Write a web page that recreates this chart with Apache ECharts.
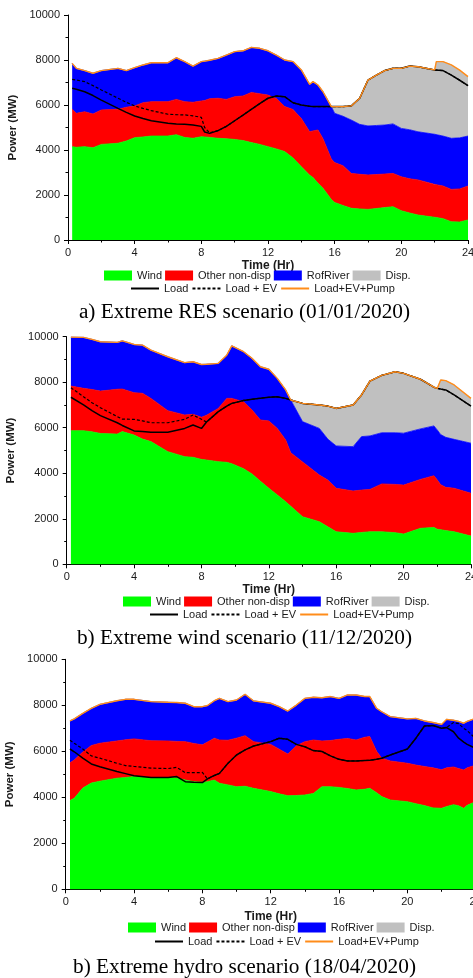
<!DOCTYPE html>
<html><head><meta charset="utf-8">
<script src="https://cdn.jsdelivr.net/npm/echarts@6/dist/echarts.min.js"></script>
<style>html,body{margin:0;padding:0;background:#fff}#c{width:473px;height:978px}</style>
</head><body><div id="c"></div>
<script>
// ---------- Chart a) Extreme RES scenario (01/01/2020) ----------
const hoursA = [0.25,0.5,1,1.5,2,3,3.5,4,4.5,5,6,6.5,7,7.5,8,8.2,8.5,9,9.5,10,10.5,11,11.5,12,12.5,13,13.5,14,14.5,14.7,15,15.3,15.8,16,16.5,17,17.5,18,18.5,19,19.5,20,20.5,21,22,22.1,22.5,23,23.5,24];
const windA = [4150,4120,4150,4100,4250,4300,4400,4550,4580,4620,4620,4680,4560,4520,4590,4580,4560,4520,4500,4470,4420,4330,4250,4150,4050,3930,3650,3260,2880,2780,2520,2300,1800,1670,1530,1410,1380,1360,1400,1440,1480,1300,1200,1110,1010,1000,950,810,800,890];
const otherA = [1660,1510,1550,1500,1530,1510,1500,1410,1520,1530,1530,1570,1590,1600,1590,1620,1720,1780,1750,1900,1980,2230,2250,2290,2240,2000,2150,2140,1930,2070,2370,2200,1800,1770,1770,1550,1540,1530,1510,1490,1480,1510,1520,1560,1460,1460,1450,1440,1470,1510];
const rofA = [2040,2000,1830,1810,1750,1820,1630,1700,1680,1730,1730,1850,1780,1610,1750,1750,1710,1770,1970,2000,2010,2000,2020,1970,1930,2070,2130,2160,2110,2190,2000,2090,2330,2190,2200,2370,2220,2180,2180,2180,2200,2150,2180,2140,2230,2240,2220,2270,2270,2220];
const dispA = [0,0,0,0,0,0,0,0,0,0,0,0,0,0,0,0,0,0,0,0,0,0,0,0,0,0,0,0,0,0,0,0,0,300,430,630,1160,2040,2240,2420,2470,2670,2830,2890,2860,3230,3310,3260,3010,2640];
const loadA = [6740,6700,6590,6420,6220,5850,5670,5510,5400,5300,5190,5160,5140,5110,5050,4800,4740,4860,5050,5300,5550,5810,6060,6300,6400,6370,6100,6000,5940,5930,5930,5930,5930,5930,5930,5960,6300,7110,7330,7530,7630,7630,7730,7700,7560,7560,7530,7330,7100,6860];
const loadEVA = [7140,7110,7040,6860,6670,6300,6120,5960,5850,5750,5590,5570,5560,5520,5450,5000,4760,4860,5050,5300,5550,5810,6060,6300,6400,6370,6100,6000,5940,5930,5930,5930,5930,5930,5930,5960,6300,7110,7330,7530,7630,7630,7730,7700,7560,7560,7530,7330,7100,6860];
const pumpA = [7850,7630,7530,7410,7530,7630,7530,7660,7780,7880,7880,8100,7930,7730,7930,7950,7990,8070,8220,8370,8410,8560,8520,8410,8220,8000,7930,7560,6920,7040,6890,6590,5930,5930,5930,5960,6300,7110,7330,7530,7630,7630,7730,7700,7560,7930,7930,7780,7550,7260];

// ---------- Chart b) Extreme wind scenario (11/12/2020) ----------
const hoursB = [0.25,1,1.5,2,3,3.3,4,4.5,5,6,7,7.5,8,8.3,9,9.5,9.8,10.5,11,11.5,12,12.5,13,13.3,14,15,15.5,16,17,17.5,18,18.7,19.5,20,21,21.8,22,22.2,22.5,23,24];
const windB = [5870,5870,5820,5750,5720,5830,5680,5500,5390,4950,4730,4700,4610,4580,4510,4480,4420,4200,3970,3650,3340,3050,2750,2550,2090,1870,1650,1430,1360,1400,1430,1430,1390,1330,1580,1620,1540,1520,1480,1430,1240];
const otherB = [1960,1860,1860,1860,1970,1870,1860,2010,1900,1800,1830,1890,1850,1970,2340,2810,2870,2940,2810,2690,2960,2920,2710,2350,2410,2050,2050,1910,1860,1860,1860,2100,2120,2150,2150,2270,2160,1980,1900,1910,1880];
const rofB = [2150,2240,2200,2170,2060,2120,2120,2120,2120,2370,2300,2310,2320,2240,1980,1900,2310,2200,2270,2340,2270,2200,2200,2320,1770,2050,1800,1860,1950,2350,2350,2250,2270,2280,2220,2190,2200,2200,2200,2150,2200];
const dispB = [0,0,0,0,0,0,0,0,0,0,0,0,0,0,0,0,0,0,0,0,0,0,0,0,800,1030,1450,1650,1830,1830,2410,2520,2680,2630,2180,1700,1830,2400,2490,2390,1970];
const loadB = [7340,7000,6750,6530,6220,6100,5860,5830,5800,5800,5970,6120,5970,6250,6710,6950,7070,7200,7250,7300,7340,7360,7290,7220,7070,7000,6950,6850,7000,7440,8050,8300,8460,8390,8130,7780,7730,7700,7660,7440,6950];
const loadEVB = [7760,7360,7100,6880,6490,6380,6370,6300,6220,6220,6370,6560,6370,6250,6710,6950,7070,7200,7250,7300,7340,7360,7290,7220,7070,7000,6950,6850,7000,7440,8050,8300,8460,8390,8130,7780,7730,7700,7660,7440,6950];
const pumpB = [9980,9970,9880,9780,9750,9820,9660,9630,9410,9120,8860,8900,8780,8790,8830,9190,9600,9340,9050,8680,8570,8170,7660,7220,7070,7000,6950,6850,7000,7440,8050,8300,8460,8390,8130,7780,7730,8100,8070,7880,7290];

// ---------- Chart c) Extreme hydro scenario (18/04/2020) ----------
const hoursC = [0.25,0.5,1,1.5,2,3,3.5,4,5,6,6.5,7,7.5,8,8.3,8.7,9,9.5,10,10.5,11,12,12.5,13,13.5,14,14.5,15,15.5,16,16.5,17,17.5,17.8,18.2,18.5,19,20,20.5,21,21.5,22,22.3,22.7,23,23.3,23.5,24];
const windC = [3860,3960,4400,4620,4700,4830,4860,4900,4830,4860,4840,4750,4680,4650,4680,4750,4610,4540,4460,4480,4390,4250,4150,4070,4080,4100,4170,4460,4460,4430,4380,4320,4350,4390,4200,4030,3880,3810,3720,3640,3540,3520,3600,3680,3630,3520,3650,3810];
const otherC = [1640,1660,1570,1630,1650,1620,1640,1640,1630,1590,1590,1670,1660,1630,1720,1820,1880,1940,2110,2200,2030,2050,1940,1810,2160,2320,2320,1990,2010,2090,2180,2170,2260,2250,1800,1670,1700,1670,1680,1700,1740,1680,1680,1640,1620,1670,1630,1590];
const rofC = [1820,1790,1680,1620,1690,1750,1760,1720,1700,1680,1690,1670,1600,1660,1590,1630,1810,1680,1660,1800,1770,1790,1850,1870,1770,1880,1860,1880,1910,1780,1890,1960,1770,1740,1870,2020,1930,1930,2030,1980,1970,1970,2110,2030,2050,2030,2020,2030];
const dispC = [0,0,0,0,0,0,0,0,0,0,0,0,0,0,0,0,0,0,0,0,0,0,0,0,0,0,0,0,0,0,0,0,0,0,0,0,0,0,0,0,0,0,0,0,0,0,0,0];
const loadC = [6100,5980,5700,5450,5330,5120,5030,4940,4860,4860,4900,4680,4650,4640,4800,4950,5040,5480,5840,6060,6230,6420,6570,6520,6300,6200,6030,5990,5800,5650,5580,5580,5600,5610,5650,5700,5840,6100,6570,7100,7120,7000,7030,6850,6570,6400,6300,6130];
const loadEVC = [6480,6350,6100,5800,5700,5480,5380,5340,5270,5250,5300,5070,5070,5080,4800,4950,5040,5480,5840,6060,6230,6420,6570,6520,6300,6200,6030,5990,5800,5650,5580,5580,5600,5610,5650,5700,5840,6100,6570,7100,7120,7000,7030,7250,7200,7000,6900,6550];
const pumpC = [7320,7410,7650,7870,8040,8200,8260,8260,8160,8130,8120,8090,7940,7940,7990,8200,8300,8160,8230,8480,8190,8090,7940,7750,8010,8300,8350,8330,8380,8300,8450,8450,8380,8380,7870,7720,7510,7410,7430,7320,7250,7170,7390,7350,7300,7220,7300,7430];

const xTicks = [0,4,8,12,16,20,24];
const captions = ['a) Extreme RES scenario (01/01/2020)','b) Extreme wind scenario (11/12/2020)','b) Extreme hydro scenario (18/04/2020)'];

const SANS = '"Liberation Sans", Arial, sans-serif';
const SERIF = '"Liberation Serif", "Times New Roman", serif';
const TXT = '#1a1a1a';
const COLORS = {wind:'#00FF00', other:'#FF0000', rof:'#0000FF', disp:'#C0C0C0', pump:'#FF8C1A'};

const sets = [
  {h:hoursA, w:windA, o:otherA, r:rofA, d:dispA, l:loadA, e:loadEVA, p:pumpA},
  {h:hoursB, w:windB, o:otherB, r:rofB, d:dispB, l:loadB, e:loadEVB, p:pumpB},
  {h:hoursC, w:windC, o:otherC, r:rofC, d:dispC, l:loadC, e:loadEVC, p:pumpC}
];
const grids = [
  {left:68, top:15, width:400, height:225},
  {left:66.7, top:336.7, width:404.3, height:227.6},
  {left:65.7, top:659.3, width:410, height:230}
];
const nameGaps = [20, 19, 21];
const leg1 = [{left:104, top:270},{left:123, top:596},{left:128, top:922}];
const leg2 = [{left:130, top:283},{left:149, top:609},{left:154, top:936}];
const capY = [312, 638, 967];

// value first, hour second -> the value dimension is the one ECharts stacks
const vtPairs = (h, v) => h.map((t, i) => [v[i], t]);

const xAxis = [], yAxis = [], series = [], legend = [], graphic = [];
grids.forEach((g, k) => {
  xAxis.push({
    type:'value', gridIndex:k, min:xTicks[0], max:xTicks[xTicks.length-1], interval:4,
    name:'Time (Hr)', nameLocation:'middle', nameGap:nameGaps[k],
    nameTextStyle:{fontFamily:SANS, fontSize:12, fontWeight:'bold', color:TXT},
    axisLine:{show:true, onZero:false, lineStyle:{color:'#000', width:1}},
    axisTick:{show:true, length:4, lineStyle:{color:'#000', width:1}},
    minorTick:{show:true, splitNumber:2, length:2.5, lineStyle:{color:'#000', width:1}},
    splitLine:{show:false}, minorSplitLine:{show:false},
    axisLabel:{fontFamily:SANS, fontSize:11, color:TXT, margin:7, formatter:v => String(v)}
  });
  yAxis.push({
    type:'value', gridIndex:k, min:0, max:10000, interval:2000,
    name:'Power (MW)', nameLocation:'middle', nameGap:40, nameRotate:90,
    nameTextStyle:{fontFamily:SANS, fontSize:11.5, fontWeight:'bold', color:TXT},
    axisLine:{show:true, lineStyle:{color:'#000', width:1}},
    axisTick:{show:true, length:4, lineStyle:{color:'#000', width:1}},
    minorTick:{show:true, splitNumber:2, length:2.5, lineStyle:{color:'#000', width:1}},
    splitLine:{show:false}, minorSplitLine:{show:false},
    axisLabel:{fontFamily:SANS, fontSize:11, color:TXT, margin:8, formatter:v => String(v)}
  });
  const s = sets[k];
  [['Wind', s.w, COLORS.wind], ['Other non-disp', s.o, COLORS.other], ['RofRiver', s.r, COLORS.rof], ['Disp.', s.d, COLORS.disp]].forEach(([name, vals, c]) => {
    series.push({
      type:'line', name, xAxisIndex:k, yAxisIndex:k, stack:'st'+k,
      data:vtPairs(s.h, vals), encode:{x:1, y:0},
      symbol:'none', color:c,
      itemStyle:{color:c}, lineStyle:{width:0.8, color:c},
      areaStyle:{color:c, opacity:1}, silent:true, z:2
    });
  });
  const lines = [
    ['Load', s.l, {color:'#000', width:1.5}],
    ['Load + EV', s.e, {color:'#000', width:1.2, type:[3,2]}],
    ['Load+EV+Pump', s.p, {color:COLORS.pump, width:1.4}]
  ];
  lines.forEach(([name, vals, ls], j) => {
    series.push({type:'line', name, xAxisIndex:k, yAxisIndex:k,
      data:vtPairs(s.h, vals), encode:{x:1, y:0},
      symbol:'circle', symbolSize:0, showSymbol:false, color:ls.color, itemStyle:{color:ls.color},
      lineStyle:ls, silent:true, z:3 + (j === 2 ? 1 : 0)});
  });

  legend.push({
    left:leg1[k].left, top:leg1[k].top, orient:'horizontal', padding:0, itemGap:3, itemWidth:28, itemHeight:10,
    selectedMode:false, textStyle:{fontFamily:SANS, fontSize:11, color:TXT},
    data:[{name:'Wind', icon:'rect'},{name:'Other non-disp', icon:'rect'},{name:'RofRiver', icon:'rect'},{name:'Disp.', icon:'rect'}]
  });
  legend.push({
    left:leg2[k].left, top:leg2[k].top, orient:'horizontal', padding:0, itemGap:3, itemWidth:28, itemHeight:10,
    selectedMode:false, textStyle:{fontFamily:SANS, fontSize:11, color:TXT},
    itemStyle:{opacity:0},
    data:['Load','Load + EV','Load+EV+Pump']
  });
  graphic.push({
    type:'text', x:244.5, y:capY[k], silent:true,
    style:{text:captions[k], font:'21.3px ' + SERIF, fill:'#000', align:'center', verticalAlign:'middle', textAlign:'center', textVerticalAlign:'middle'}
  });
});

const chart = echarts.init(document.getElementById('c'), null, {renderer:'canvas'});
chart.setOption({
  animation:false,
  backgroundColor:'#fff',
  grid:grids.map(g => Object.assign({containLabel:false, outerBoundsMode:'none'}, g)),
  xAxis, yAxis, series, legend, graphic,
  tooltip:{show:false}
});
</script></body></html>
